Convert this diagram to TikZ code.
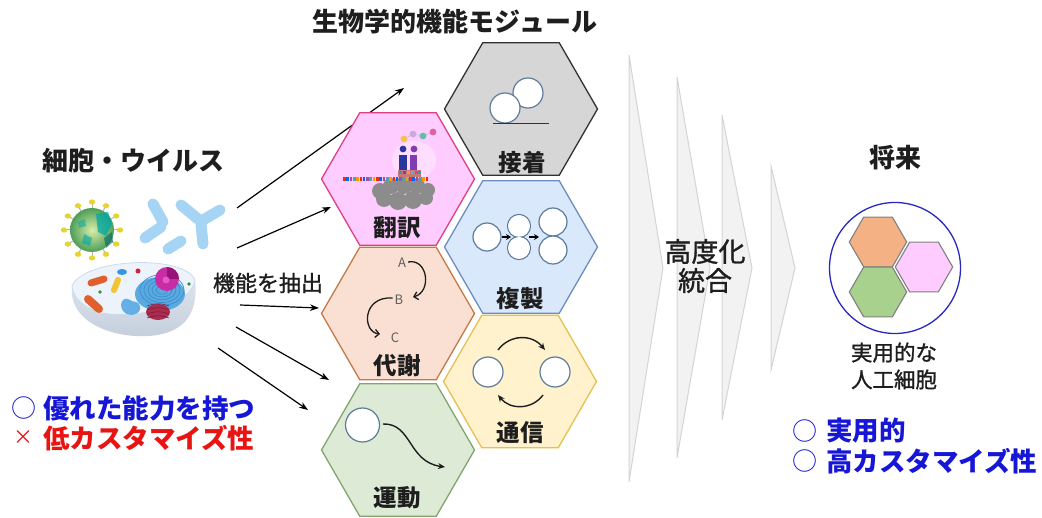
\documentclass[tikz,border=0pt]{standalone}
\usepackage{fontspec}
\setmainfont{Noto Sans CJK JP}
\newfontfamily\medfont{Noto Sans CJK JP}[FakeBold=1.2]
\usetikzlibrary{arrows.meta,shapes.geometric,calc}

\definecolor{ink}{RGB}{30,30,30}
\definecolor{pinkfill}{RGB}{255,204,255}
\definecolor{pinkline}{RGB}{226,62,132}
\definecolor{grayfill}{RGB}{214,214,214}
\definecolor{grayline}{RGB}{50,50,50}
\definecolor{bluefill}{RGB}{218,232,252}
\definecolor{blueline}{RGB}{108,142,191}
\definecolor{orangefill}{RGB}{250,224,210}
\definecolor{orangeline}{RGB}{196,122,72}
\definecolor{yellowfill}{RGB}{255,242,204}
\definecolor{yellowline}{RGB}{230,192,80}
\definecolor{greenfill}{RGB}{221,234,214}
\definecolor{greenline}{RGB}{130,165,110}
\definecolor{ballline}{RGB}{92,124,156}
\definecolor{chevfill}{RGB}{242,242,242}
\definecolor{chevline}{RGB}{212,212,212}
\definecolor{goodblue}{RGB}{22,22,215}
\definecolor{badred}{RGB}{232,20,20}
\definecolor{ringblue}{RGB}{40,40,190}
\definecolor{miniorange}{RGB}{244,177,131}
\definecolor{minigreen}{RGB}{169,209,142}
\definecolor{minigray}{RGB}{128,128,128}
\definecolor{abblue}{RGB}{165,212,244}
\definecolor{letter}{RGB}{95,95,95}
% virus
\definecolor{viruscore}{RGB}{215,238,170}
\definecolor{virusrim}{RGB}{78,158,88}
\definecolor{spike}{RGB}{232,212,48}
% cell
\definecolor{cellsidetop}{RGB}{222,228,238}
\definecolor{cellsidebot}{RGB}{196,206,220}
\definecolor{celltop}{RGB}{236,243,250}
\definecolor{cellrim}{RGB}{200,220,238}
\definecolor{erfill}{RGB}{90,170,225}
\definecolor{erline}{RGB}{60,140,205}
\definecolor{smoother}{RGB}{100,175,230}
\definecolor{nucleus}{RGB}{200,45,165}
\definecolor{nucleusdark}{RGB}{150,20,120}
\definecolor{nucleolus}{RGB}{230,90,200}
\definecolor{golgi}{RGB}{170,45,80}
\definecolor{golgiline}{RGB}{120,20,50}
\definecolor{mito}{RGB}{225,95,45}
\definecolor{vesicle}{RGB}{242,195,50}
\definecolor{lysosome}{RGB}{55,150,225}
\definecolor{reddot}{RGB}{210,35,60}
\definecolor{greendot}{RGB}{60,140,60}
% ribosome
\definecolor{ribogray}{RGB}{140,140,140}
\definecolor{codon}{RGB}{200,120,120}
\definecolor{trnablue}{RGB}{40,55,160}
\definecolor{trnapurple}{RGB}{128,60,176}
\definecolor{aayellow}{RGB}{240,196,70}
\definecolor{aalilac}{RGB}{200,170,225}
\definecolor{aateal}{RGB}{96,190,170}
\definecolor{aapink}{RGB}{225,95,165}

\begin{document}
\begin{tikzpicture}[x=1pt,y=-1pt,
  hexcell/.style={regular polygon, regular polygon sides=6, minimum size=153pt,
    inner sep=0pt, outer sep=0pt, line width=1.3pt},
  minihex/.style={regular polygon, regular polygon sides=6, minimum size=57.4pt,
    inner sep=0pt, line width=1.1pt, draw=minigray},
  hexlabel/.style={font=\bfseries\fontsize{23.5}{26}\selectfont, text=ink, inner sep=0pt},
  heading/.style={font=\bfseries\fontsize{26}{29}\selectfont, text=ink, inner sep=0pt},
  plain/.style={font=\medfont\fontsize{21}{27}\selectfont, text=ink, inner sep=0pt, align=center},
  feed/.style={line width=1.2pt, draw=black, -{Stealth[length=9pt,width=6.5pt]}},
  ball/.style={draw=ballline, fill=white, line width=1.2pt},
  flow/.style={line width=1.4pt, draw=ink, -{Stealth[length=7pt,width=6pt]}},
  chev/.style={fill=chevfill, draw=chevline, line width=1pt},
  markglyph/.style={font=\fontsize{25}{28}\selectfont, inner sep=0pt},
  pointtext/.style={font=\bfseries\fontsize{26.5}{29}\selectfont, inner sep=0pt, anchor=west}
]
\useasboundingbox (0,0) rectangle (1042,518);

% ---------- source organisms ----------
\node[heading] (srctitle) at (133,161) {細胞・ウイルス};

% virus particle
\foreach \a in {0,30,...,330}{
  \draw[gray!60, line width=1pt] (92,230) ++(\a:20) -- ++(\a:7);
  \fill[spike] (92,230) ++(\a:28) ellipse[x radius=3.2, y radius=2.6];
}
\shade[inner color=viruscore, outer color=virusrim] (92,230) circle[radius=22];
\fill[teal!70!cyan, opacity=0.75] (96,214) -- (108,212) -- (112,224) -- (106,236) -- (98,232) -- cycle;
\fill[teal!80!black, opacity=0.6] (104,238) -- (112,232) -- (113,242) -- (106,248) -- cycle;
\fill[teal!70!cyan, opacity=0.6] (84,234) -- (92,238) -- (90,246) -- (82,243) -- cycle;
\fill[teal!70!cyan, opacity=0.5] (78,222) -- (85,219) -- (86,226) -- (79,228) -- cycle;

% antibodies
\begin{scope}[line width=11pt, line cap=round, draw=abblue]
  \draw (153,204) -- (163,222);
  \draw (161,227) -- (145,238);
  \draw (181,241) -- (168,249);
  \draw (181,205) -- (198,219);
  \draw (220,210) -- (203,220);
  \draw (201,224) -- (203,244);
\end{scope}

% animal cell cut-away
\shade[top color=cellsidetop, bottom color=cellsidebot]
  (72,286) .. controls (68,322) and (112,338) .. (148,336)
  .. controls (182,334) and (199,316) .. (195,280) -- cycle;
\filldraw[fill=celltop, draw=cellrim, line width=0.8pt]
  (72,286) .. controls (84,258) and (184,254) .. (195,280)
  .. controls (192,304) and (140,320) .. (102,313)
  .. controls (84,308) and (73,298) .. (72,286) -- cycle;
\fill[erfill] (160,294) ellipse[x radius=25, y radius=17];
\foreach \r in {6,10,14,18,22}
  \draw[erline, line width=0.7pt] (162,290) ellipse[x radius=\r, y radius=0.7*\r];
\fill[smoother] (130,300) .. controls (122,295) and (118,306) .. (124,312)
  .. controls (130,318) and (142,314) .. (140,306) .. controls (138,300) and (134,303) .. cycle;
\fill[nucleus] (167,279) circle[radius=12];
\fill[nucleusdark] (167,279) -- (179,279) arc[start angle=0, end angle=-90, radius=12] -- cycle;
\fill[nucleolus] (166,280) circle[radius=3.5];
\fill[golgi] (158,312) ellipse[x radius=12, y radius=8];
\foreach \d in {-6,-2,2,6}
  \draw[golgiline, line width=0.5pt] (147,312+\d) .. controls (155,309+\d) and (162,309+\d) .. (169,312+\d);
\draw[mito, line width=7pt, line cap=round] (91,283) -- (104,279);
\draw[mito, line width=8pt, line cap=round] (88,299) -- (99,309);
\draw[vesicle, line width=6pt, line cap=round] (118,280) -- (114,290);
\fill[lysosome] (122,272) ellipse[x radius=5, y radius=3];
\fill[reddot] (138,271) circle[radius=2.5];
\fill[greendot] (100,292) circle[radius=1.8];
\fill[greendot] (189,284) circle[radius=1.8];

\node[plain, font=\medfont\fontsize{22}{26}\selectfont] (extract) at (268,283) {機能を抽出};

% ---------- extraction arrows ----------
\coordinate (s1) at (237,208); \coordinate (d1) at (404,88);
\coordinate (s2) at (237,248); \coordinate (d2) at (331,207);
\coordinate (s3) at (240,305); \coordinate (d3) at (319,308);
\coordinate (s4) at (236,327); \coordinate (d4) at (329,380);
\coordinate (s5) at (218,348); \coordinate (d5) at (308,410);
\draw[feed] (s1) -- (d1);
\draw[feed] (s2) -- (d2);
\draw[feed] (s3) -- (d3);
\draw[feed] (s4) -- (d4);
\draw[feed] (s5) -- (d5);

\node[markglyph, text=goodblue] (m1) at (24,408) {○};
\node[pointtext, text=goodblue] (p1) at (43,408) {優れた能力を持つ};
\node[markglyph, text=badred, font=\fontsize{20}{24}\selectfont] (m2) at (23,438) {×};
\node[pointtext, text=badred] (p2) at (43,438) {低カスタマイズ性};

% ---------- functional modules ----------
\node[heading] (modtitle) at (455,22) {生物学的機能モジュール};

\node[hexcell, fill=pinkfill, draw=pinkline]     (transl) at (398,179) {};
\node[hexcell, fill=grayfill, draw=grayline]     (adhes)  at (521,109) {};
\node[hexcell, fill=bluefill, draw=blueline]     (repl)   at (521,247) {};
\node[hexcell, fill=orangefill, draw=orangeline] (metab)  at (398,313.5) {};
\node[hexcell, fill=yellowfill, draw=yellowline] (comm)   at (520,381.5) {};
\node[hexcell, fill=greenfill, draw=greenline]   (motil)  at (398,450) {};

\node[hexlabel] (ltransl) at (397,228) {翻訳};
\node[hexlabel] (ladhes)  at (522,163) {接着};
\node[hexlabel] (lrepl)   at (520,299) {複製};
\node[hexlabel] (lmetab)  at (397,366) {代謝};
\node[hexlabel] (lcomm)   at (520,433) {通信};
\node[hexlabel] (lmotil)  at (397,498) {運動};

% translation: ribosome on mRNA
\fill[white, opacity=0.35] (414,160) ellipse[x radius=22, y radius=19];
\foreach \px/\py/\r in {380/191/8,391/186/8,404/185/9,417/186/8,428/190/7,
                        384/199/8,398/201/9,413/200/9,426/198/7}
  \fill[ribogray] (\px,\py) circle[radius=\r];
\foreach \i in {0,...,25}{
  \pgfmathsetmacro{\x}{343+3.3*\i}
  \pgfmathtruncatemacro{\k}{mod(\i,5)}
  \ifcase\k \def\cc{red!70!orange}\or\def\cc{blue!60!cyan}\or\def\cc{violet!70}\or\def\cc{teal!70}\or\def\cc{orange!80!yellow}\fi
  \fill[\cc] (\x,177) rectangle ++(2.6,4);
}
\fill[codon] (398,170) rectangle (421,177);
\foreach \x/\cc in {399/teal,403/violet,407/orange,411/cyan,415/magenta,418/teal}
  \fill[\cc!80] (\x,171) rectangle ++(2.6,3);
\fill[trnablue] (399,155) rectangle (407,170);
\fill[trnapurple] (410,155) rectangle (417,170);
\fill[trnablue] (403,149) circle[radius=3.4];
\fill[trnapurple] (414,149) circle[radius=3.4];
\draw[gray!50, line width=0.5pt] (404,139) -- (413,134) -- (423,136) -- (433,132);
\fill[aayellow] (404,139) circle[radius=3.4];
\fill[aalilac] (413,134) circle[radius=3.4];
\fill[aateal] (423,136) circle[radius=3.4];
\fill[aapink] (433,132) circle[radius=3.4];

% adhesion: two cells resting on a surface
\draw[ball] (528,93) circle[radius=15];
\draw[ball] (505,108) circle[radius=15];
\draw[grayline, line width=1.3pt] (493,123.3) -- (549,123.3);

% replication: one cell splits into two
\draw[ball] (487,237) circle[radius=14];
\draw[ball] (519,226) circle[radius=11.5];
\draw[ball] (519,248) circle[radius=11.5];
\fill[white] (519,226) circle[radius=10.8];
\fill[white] (519,248) circle[radius=10.8];
\draw[ball] (553,222) circle[radius=14];
\draw[ball] (553,250) circle[radius=14];
\draw[line width=1.6pt, -{Stealth[length=5pt,width=6pt]}] (502,237) -- (511,237);
\draw[line width=1.6pt, -{Stealth[length=5pt,width=6pt]}] (529,237) -- (539,237);

% metabolism: A -> B -> C
\begin{scope}[font=\fontsize{13}{15}\selectfont, text=letter, inner sep=0pt]
  \node (ma) at (402,263) {A};
  \node (mb) at (399,300) {B};
  \node (mc) at (395,338) {C};
\end{scope}
\draw[line width=1.3pt, draw=ink, -{Straight Barb[length=4pt,width=8pt]}]
  (ma.east) ++(2,-1) .. controls (428,258) and (432,292) .. (413,297);
\draw[line width=1.3pt, draw=ink, -{Straight Barb[length=4pt,width=8pt]}]
  (mb.west) ++(-2,-2) .. controls (362,296) and (362,332) .. (380,334);

% communication: exchange between two cells
\draw[ball] (488,372) circle[radius=15];
\draw[ball] (555,372) circle[radius=15];
\draw[flow] (498,350) .. controls (510,334) and (532,334) .. (545,350);
\draw[flow] (543,395) .. controls (532,410) and (510,410) .. (498,395);

% motility: a cell moving along a path
\draw[ball] (362.5,425) circle[radius=17];
\draw[flow] (383,424) .. controls (412,423) and (408,462) .. (445,467);

% ---------- integration chevrons ----------
\filldraw[chev] (629,55) -- (663,268) -- (629,482) -- cycle;
\filldraw[chev] (677,77) -- (710,268) -- (677,458) -- cycle;
\filldraw[chev] (722,115) -- (752,268) -- (722,420) -- cycle;
\filldraw[chev] (771,166) -- (795,268) -- (771,370) -- cycle;
\node[plain, font=\medfont\fontsize{27}{29}\selectfont] (integ) at (705,266) {高度化\\統合};

% ---------- future artificial cell ----------
\node[heading] (future) at (895,158) {将来};
\draw[ringblue, line width=1.3pt] (895,268) circle[radius=65.5];
\node[minihex, fill=miniorange] (hexo) at (878,242) {};
\node[minihex, fill=pinkfill]   (hexp) at (924,267) {};
\node[minihex, fill=minigreen]  (hexg) at (878,292) {};
\node[plain, font=\medfont\fontsize{21.5}{27}\selectfont] (artcell) at (894,366) {実用的な\\人工細胞};

\node[markglyph, text=goodblue] (m3) at (805,431) {○};
\node[pointtext, text=goodblue] (p3) at (826,431) {実用的};
\node[markglyph, text=goodblue] (m4) at (805,461) {○};
\node[pointtext, text=goodblue] (p4) at (826,461) {高カスタマイズ性};
\end{tikzpicture}
\end{document}
